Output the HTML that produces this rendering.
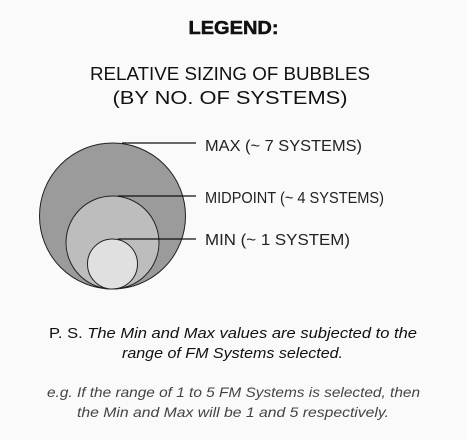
<!DOCTYPE html>
<html><head><meta charset="utf-8"><style>
html,body{margin:0;padding:0;background:#fafafa;}
svg{display:block;}
text{font-family:"Liberation Sans",sans-serif;}
</style></head><body>
<svg width="467" height="440" viewBox="0 0 467 440" xmlns="http://www.w3.org/2000/svg">
<rect width="467" height="440" fill="#fafafa"/>
<text x="233.5" y="34" text-anchor="middle" font-size="18" font-weight="bold" fill="#111" stroke="#111" stroke-width="0.5" textLength="90" lengthAdjust="spacingAndGlyphs">LEGEND:</text>
<text x="230" y="80" text-anchor="middle" font-size="18" fill="#111" textLength="280" lengthAdjust="spacingAndGlyphs">RELATIVE SIZING OF BUBBLES</text>
<text x="230" y="104" text-anchor="middle" font-size="18" fill="#111" textLength="235" lengthAdjust="spacingAndGlyphs">(BY NO. OF SYSTEMS)</text>
<circle cx="112.5" cy="216" r="73" fill="#9b9b9b" stroke="#222" stroke-width="1"/>
<circle cx="112.5" cy="242.5" r="46.5" fill="#bdbdbd" stroke="#222" stroke-width="1"/>
<circle cx="112.5" cy="264" r="25" fill="#e0e0e0" stroke="#222" stroke-width="1"/>
<line x1="122" y1="143" x2="196" y2="143" stroke="#111" stroke-width="1.3"/>
<line x1="118" y1="196" x2="196" y2="196" stroke="#111" stroke-width="1.3"/>
<line x1="118" y1="239" x2="196" y2="239" stroke="#111" stroke-width="1.3"/>
<text x="205" y="151" font-size="16" fill="#222" textLength="157" lengthAdjust="spacingAndGlyphs">MAX (~ 7 SYSTEMS)</text>
<text x="205" y="203" font-size="16" fill="#222" textLength="179" lengthAdjust="spacingAndGlyphs">MIDPOINT (~ 4 SYSTEMS)</text>
<text x="205" y="245" font-size="16" fill="#222" textLength="145" lengthAdjust="spacingAndGlyphs">MIN (~ 1 SYSTEM)</text>
<text x="233" y="338" text-anchor="middle" font-size="15" fill="#111" textLength="368" lengthAdjust="spacingAndGlyphs">P. S. <tspan font-style="italic">The Min and Max values are subjected to the</tspan></text>
<text x="232.5" y="358" text-anchor="middle" font-size="15" font-style="italic" fill="#111" textLength="221" lengthAdjust="spacingAndGlyphs">range of FM Systems selected.</text>
<text x="233.5" y="397" text-anchor="middle" font-size="14" font-style="italic" fill="#444" textLength="373" lengthAdjust="spacingAndGlyphs">e.g. If the range of 1 to 5 FM Systems is selected, then</text>
<text x="233" y="417" text-anchor="middle" font-size="14" font-style="italic" fill="#444" textLength="312" lengthAdjust="spacingAndGlyphs">the Min and Max will be 1 and 5 respectively.</text>
</svg>
</body></html>
